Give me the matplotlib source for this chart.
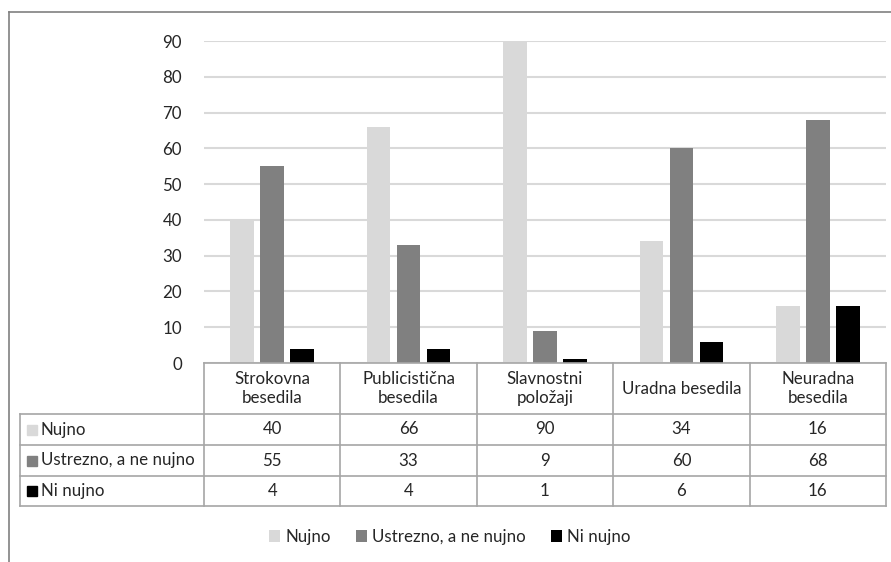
import matplotlib
matplotlib.use("Agg")
import matplotlib.pyplot as plt
from matplotlib.patches import Patch, Rectangle
from matplotlib.lines import Line2D

# podatki
kategorije = ["Strokovna\nbesedila", "Publicistična\nbesedila", "Slavnostni\npoložaji",
              "Uradna besedila", "Neuradna\nbesedila"]
serije = ["Nujno", "Ustrezno, a ne nujno", "Ni nujno"]
nujno = [40, 66, 90, 34, 16]
ustrezno = [55, 33, 9, 60, 68]
ni_nujno = [4, 4, 1, 6, 16]
vrednosti = [nujno, ustrezno, ni_nujno]
barve = ["#d9d9d9", "#808080", "#000000"]
y_ticks = [0, 10, 20, 30, 40, 50, 60, 70, 80, 90]

plt.rcParams["font.family"] = ["Lato", "DejaVu Sans"]
FS = 12.2
W, H = 891, 562
fig = plt.figure(figsize=(W / 100, H / 100), dpi=100)


def fx(px):
    return px / W


def fy(py):
    return 1 - py / H


# okvir grafikona (zgoraj in levo)
fig.add_artist(Line2D([fx(9), fx(9)], [fy(12), 0], transform=fig.transFigure,
                      color="#808080", lw=1.2))
fig.add_artist(Line2D([fx(9), 1], [fy(12), fy(12)], transform=fig.transFigure,
                      color="#808080", lw=1.2))

# os s stolpci
x0, x1, ytop, ybot = 204, 886, 41, 363
ax = fig.add_axes([fx(x0), fy(ybot), fx(x1 - x0), (ybot - ytop) / H])
n = len(kategorije)
sirina = 0.172
korak = 0.22
for i, (vals, c) in enumerate(zip(vrednosti, barve)):
    pos = [k + (i - 1) * korak for k in range(n)]
    ax.bar(pos, vals, width=sirina, color=c, zorder=3)
ax.set_xlim(-0.5, n - 0.5)
ax.set_ylim(0, 90)
ax.set_yticks(y_ticks)
ax.yaxis.grid(True, color="#d9d9d9", lw=1.5, zorder=0)
ax.set_xticks([])
for s in ax.spines.values():
    s.set_visible(False)
ax.tick_params(axis="y", length=0, pad=16, labelsize=FS, labelcolor="#262626")

# podatkovna tabela
lc = "#a6a6a6"
tx = [x0 + k * (x1 - x0) / n for k in range(n + 1)]
rows = [363, 414, 445, 476, 506]
tl = 20


def hline(xa, xb, yy):
    fig.add_artist(Line2D([fx(xa), fx(xb)], [fy(yy), fy(yy)],
                          transform=fig.transFigure, color=lc, lw=1.2))


def vline(xx, ya, yb):
    fig.add_artist(Line2D([fx(xx), fx(xx)], [fy(ya), fy(yb)],
                          transform=fig.transFigure, color=lc, lw=1.2))


hline(x0, x1, rows[0])
for yy in rows[1:]:
    hline(tl, x1, yy)
vline(tl, rows[1], rows[-1])
for xx in tx:
    vline(xx, rows[0], rows[-1])

for k, kat in enumerate(kategorije):
    cx = (tx[k] + tx[k + 1]) / 2
    fig.text(fx(cx), fy((rows[0] + rows[1]) / 2), kat, ha="center", va="center",
             fontsize=FS, color="#262626", linespacing=1.25)
    for r in range(3):
        fig.text(fx(cx), fy((rows[r + 1] + rows[r + 2]) / 2), str(vrednosti[r][k]),
                 ha="center", va="center", fontsize=FS, color="#262626")

for r, (ime, c) in enumerate(zip(serije, barve)):
    yc = (rows[r + 1] + rows[r + 2]) / 2
    fig.add_artist(Rectangle((fx(27), fy(yc + 5)), fx(10), 10 / H,
                             transform=fig.transFigure, color=c))
    fig.text(fx(41), fy(yc), ime, ha="left", va="center", fontsize=FS, color="#262626")

# legenda
rocaji = [Patch(facecolor=c, edgecolor="none", label=s) for s, c in zip(serije, barve)]
fig.legend(handles=rocaji, loc="center", bbox_to_anchor=(fx(450), fy(537)), ncol=3,
           frameon=False, fontsize=FS, handlelength=0.65, handleheight=0.65,
           handletextpad=0.3, columnspacing=1.5, labelcolor="#262626")

fig.savefig("out.png", dpi=100)
